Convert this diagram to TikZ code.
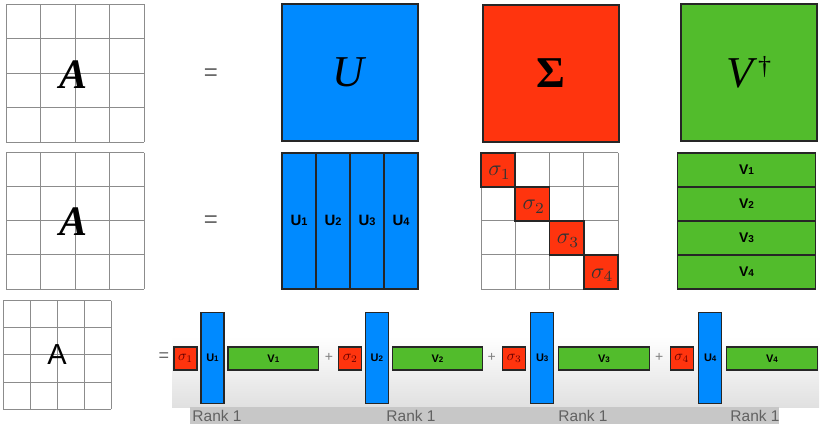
\documentclass[tikz,border=0pt]{standalone}
\usepackage{fontspec}
\setmainfont{Liberation Serif}
\setsansfont{Liberation Sans}
\definecolor{ublue}{RGB}{0,138,255}
\definecolor{sred}{RGB}{255,52,14}
\definecolor{vgreen}{RGB}{82,188,44}
\definecolor{gline}{RGB}{140,140,140}
\newcommand{\fsz}[1]{\fontsize{#1}{#1}\selectfont}
\newcommand{\sublab}[3]{#1{\fsz{#3}#2}}
\newcommand{\sig}[2]{\scalebox{#2}{$\sigma_{#1}$}}
\begin{document}
\begin{tikzpicture}[x=1pt,y=-1pt,
  bigbox/.style={draw=black!85, line width=2pt, minimum width=136pt, minimum height=137pt, inner sep=0pt, font=\fsz{44}},
  ucol/.style={draw=black!85, fill=ublue, line width=1.8pt, minimum width=34pt, minimum height=136.5pt, inner sep=0pt, font=\sffamily\bfseries\fsz{15}},
  vrow/.style={draw=black!85, fill=vgreen, line width=1.8pt, minimum width=138pt, minimum height=34.1pt, inner sep=0pt, font=\sffamily\bfseries\fsz{14}},
  scell/.style={draw=black!85, fill=sred, line width=1.8pt, minimum width=34.2pt, minimum height=34.1pt, inner sep=0pt},
  slab/.style={inner sep=0pt, text=black!80},
  gridl/.style={draw=gline, line width=0.9pt},
  eqsign/.style={inner sep=0pt, font=\sffamily\fsz{24}, text=black!60},
  pl/.style={inner sep=0pt, font=\sffamily\fsz{14}, text=black!50},
  bigA/.style={inner sep=0pt, font=\itshape\bfseries\fsz{42}},
  ssig/.style={draw=black!85, fill=sred, line width=1.1pt, minimum width=23pt, minimum height=23pt, inner sep=0pt, text=red!40!black},
  sbar/.style={draw=black!85, fill=ublue, line width=1.1pt, minimum width=23pt, minimum height=91pt, inner sep=0pt, font=\sffamily\bfseries\fsz{11}},
  sv/.style={draw=black!85, fill=vgreen, line width=1.1pt, minimum height=23pt, inner sep=0pt, font=\sffamily\bfseries\fsz{11}},
  ranklab/.style={inner sep=0pt, font=\sffamily\fsz{15.5}, text=black!62}
]
\useasboundingbox[fill=white] (0,0) rectangle (825,447);

% ---------- Row 1 ----------
\foreach \i in {0,...,4} {
  \draw[gridl] (6+34.5*\i,4) -- (6+34.5*\i,142);
  \draw[gridl] (6,4+34.5*\i) -- (144,4+34.5*\i);
}
\node[bigA] (A1) at (74,75) {A};
\node[eqsign] (eq1) at (211,75) {=};
\node[bigbox, fill=ublue] (U) at (350,72.5) {\raisebox{-4pt}{\textit{U}}};
\node[bigbox, fill=sred] (S) at (550.5,73) {\raisebox{-4pt}{\textbf{Σ}}};
\node[bigbox, fill=vgreen] (V) at (749,72.5) {\raisebox{-4pt}{\textit{V}\raisebox{13pt}{\fsz{26}†}}};

% ---------- Row 2 ----------
\foreach \i in {0,...,4} {
  \draw[gridl] (6+34.5*\i,152.7) -- (6+34.5*\i,289);
  \draw[gridl] (6,152.7+34.075*\i) -- (144,152.7+34.075*\i);
}
\node[bigA] (A2) at (74,222) {A};
\node[eqsign] (eq2) at (211,222) {=};
\foreach \k/\x in {1/299,2/333,3/367,4/401} {
  \node[ucol] (uc\k) at (\x,220.85) {\sublab{U}{\k}{11}};
}
% Sigma grid
\foreach \i in {0,...,4} {
  \draw[gridl] (481+34.25*\i,152.7) -- (481+34.25*\i,289);
  \draw[gridl] (481,152.7+34.075*\i) -- (618,152.7+34.075*\i);
}
\foreach \k in {1,...,4} {
  \node[scell] (sc\k) at (481+34.25*\k-17.125,152.7+34.075*\k-17.04) {};
  \node[slab] (sl\k) at ([xshift=1.5pt,yshift=-3pt]sc\k.center) {\sig{\k}{2.2}};
}
\foreach \k in {1,...,4} {
  \node[vrow] (vr\k) at (746.5,152.7+34.075*\k-17.04) {\sublab{V}{\k}{10}};
}

% ---------- Row 3 ----------
\shade[top color=white, bottom color=black!12] (172,336) rectangle (819,407);
\fill[black!22] (190,407) rectangle (779,423.5);
\foreach \i in {0,...,4} {
  \draw[gridl] (3.3+27*\i,300.7) -- (3.3+27*\i,409);
  \draw[gridl] (3.3,300.7+27.1*\i) -- (111.3,300.7+27.1*\i);
}
\node[inner sep=0pt, font=\sffamily\fsz{29}] (A3) at (57,355) {A};
\node[eqsign, font=\sffamily\fsz{18}] (eq3) at (164,357) {=};
\foreach \k/\sx/\ux/\vx/\vw in {1/174/201/228/90.7, 2/338.7/365.3/392.3/90.4, 3/502.7/530.7/558.3/91.4, 4/670.3/698.7/726.7/90.6} {
  \node[ssig] (s\k) at (\sx+11.5,358.5) {\raisebox{-1.5pt}{\sig{\k}{1.45}}};
  \node[sbar] (u\k) at (\ux+11.5,358.2) {\sublab{U}{\k}{8}};
  \node[sv, minimum width=\vw pt] (v\k) at (\vx+\vw/2,358.5) {\sublab{V}{\k}{8}};
}
\node[pl] (p1) at (329,357) {+};
\node[pl] (p2) at (491.7,357) {+};
\node[pl] (p3) at (659.3,357) {+};
\node[ranklab] (r1) at (217,415.5) {Rank 1};
\node[ranklab] (r2) at (411,415.5) {Rank 1};
\node[ranklab] (r3) at (583,415.5) {Rank 1};
\node[ranklab] (r4) at (755,415.5) {Rank 1};
\end{tikzpicture}
\end{document}
